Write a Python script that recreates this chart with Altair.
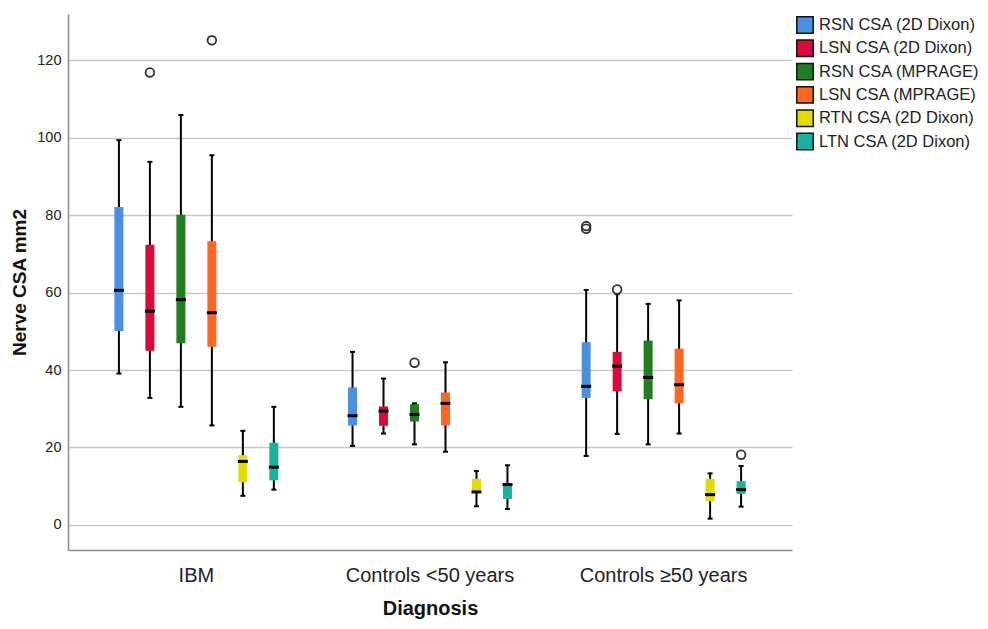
import altair as alt
import pandas as pd

groups = ["IBM", "Controls <50 years", "Controls ≥50 years"]
series = ["RSN CSA (2D Dixon)", "LSN CSA (2D Dixon)", "RSN CSA (MPRAGE)",
          "LSN CSA (MPRAGE)", "RTN CSA (2D Dixon)", "LTN CSA (2D Dixon)"]
colors = ["#4a90e2", "#dc0a3a", "#1f7f1f", "#ff6622", "#e5db00", "#17b3a0"]

# per group, in series order
whisker_low = [39.1, 32.8, 30.5, 25.7, 7.5, 9.1,
               20.4, 23.6, 20.8, 18.9, 4.8, 4.1,
               17.8, 23.5, 20.8, 23.6, 1.6, 4.7]
q1 = [50.1, 45.0, 46.9, 46.0, 11.0, 11.5,
      25.7, 25.6, 26.7, 25.7, 8.2, 6.7,
      32.8, 34.5, 32.5, 31.4, 6.1, 8.0]
median = [60.6, 55.2, 58.2, 54.8, 16.4, 14.9,
          28.2, 29.4, 28.5, 31.4, 8.5, 10.4,
          35.8, 41.0, 38.1, 36.2, 7.8, 9.1]
q3 = [82.1, 72.4, 80.1, 73.3, 18.0, 21.2,
      35.5, 30.6, 31.2, 34.2, 11.9, 10.6,
      47.2, 44.7, 47.6, 45.5, 11.9, 11.3]
whisker_high = [99.4, 93.8, 105.9, 95.5, 24.3, 30.5,
                44.7, 37.8, 31.4, 42.0, 13.9, 15.4,
                60.7, 59.6, 57.1, 58.0, 13.3, 15.2]

outlier_group = ["IBM", "IBM", "Controls <50 years", "Controls ≥50 years",
                 "Controls ≥50 years", "Controls ≥50 years", "Controls ≥50 years"]
outlier_series = ["LSN CSA (2D Dixon)", "LSN CSA (MPRAGE)", "RSN CSA (MPRAGE)",
                  "RSN CSA (2D Dixon)", "RSN CSA (2D Dixon)", "LSN CSA (2D Dixon)",
                  "LTN CSA (2D Dixon)"]
outlier_value = [116.9, 125.2, 41.9, 77.2, 76.5, 60.8, 18.1]

rows = []
i = 0
for g in groups:
    for s in series:
        rows.append(dict(group=g, series=s, lo=whisker_low[i], q1=q1[i],
                         med=median[i], q3=q3[i], hi=whisker_high[i]))
        i += 1
df = pd.DataFrame(rows)
odf = pd.DataFrame(dict(group=outlier_group, series=outlier_series, value=outlier_value))

x = alt.X("group:N", sort=groups,
          scale=alt.Scale(domain=groups, paddingInner=0.033, paddingOuter=0.066),
          axis=alt.Axis(title="Diagnosis", labelAngle=0))
xo = alt.XOffset("series:N", sort=series,
                 scale=alt.Scale(domain=series, paddingInner=0.71, paddingOuter=1))
yscale = alt.Scale(domain=[-6.5, 132], nice=False, zero=False)
yaxis = alt.Axis(title="Nerve CSA mm2", values=[0, 20, 40, 60, 80, 100, 120])

base = alt.Chart(df)

whisk = base.mark_rule(color="black", strokeWidth=2).encode(
    x=x, xOffset=xo,
    y=alt.Y("lo:Q", scale=yscale, axis=yaxis), y2="hi:Q")

box = base.mark_bar().encode(
    x=x, xOffset=xo,
    y=alt.Y("q1:Q", scale=yscale, axis=yaxis), y2="q3:Q",
    color=alt.Color("series:N", sort=series,
                    scale=alt.Scale(domain=series, range=colors),
                    legend=alt.Legend(title=None, orient="none", legendX=728, legendY=2,
                                      symbolType="square", symbolSize=270,
                                      symbolStrokeColor="#111", symbolStrokeWidth=1.5,
                                      labelFontSize=16.5, labelColor="#222",
                                      labelOffset=5, rowPadding=-0.7, labelLimit=400,
                                      symbolOpacity=1)))

med = base.mark_tick(color="black", thickness=3, size=10, opacity=1).encode(
    x=x, xOffset=xo, y=alt.Y("med:Q", scale=yscale, axis=yaxis))

cap_lo = base.mark_tick(color="black", thickness=2, size=5, opacity=1).encode(
    x=x, xOffset=xo, y=alt.Y("lo:Q", scale=yscale, axis=yaxis))
cap_hi = base.mark_tick(color="black", thickness=2, size=5, opacity=1).encode(
    x=x, xOffset=xo, y=alt.Y("hi:Q", scale=yscale, axis=yaxis))

outl = alt.Chart(odf).mark_point(shape="circle", filled=False, color="#333",
                                 size=75, strokeWidth=1.8, opacity=1).encode(
    x=x, xOffset=xo, y=alt.Y("value:Q", scale=yscale, axis=yaxis))

chart = alt.layer(whisk, box, med, cap_lo, cap_hi, outl).properties(
    width=724, height=536,
    autosize=alt.AutoSizeParams(type="none"),
    padding={"left": 60, "top": 6, "right": 188, "bottom": 71},
).configure(font="Liberation Sans").configure_view(stroke=None).configure_axisY(
    grid=True, gridColor="#c8c8c8", gridWidth=1.5,
    domainColor="#8c8c8c", domainWidth=1.5, ticks=False,
    labelFontSize=14.5, labelColor="#222", labelPadding=7,
    titleFontSize=19, titleFontWeight="bold", titleColor="#111", titlePadding=7,
).configure_axisX(
    grid=False, domainColor="#8c8c8c", domainWidth=1.5, ticks=False,
    labelFontSize=20, labelColor="#222", labelPadding=15,
    titleFontSize=20, titleFontWeight="bold", titleColor="#111", titlePadding=13,
)

chart.save("out.html", embed_options={"renderer": "svg", "actions": False})
